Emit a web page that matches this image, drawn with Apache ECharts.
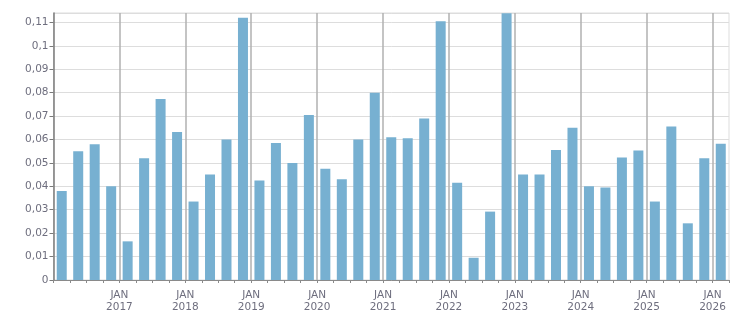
<!DOCTYPE html>
<html>
<head>
<meta charset="utf-8">
<script src="https://cdn.jsdelivr.net/npm/echarts@6/dist/echarts.min.js"></script>
<style>
  html, body { margin: 0; padding: 0; background: #fff; }
  #chart { width: 751px; height: 313px; }
</style>
</head>
<body>
<div id="chart"></div>
<script>
// quarterly values, 2016 Q1 .. 2026 Q1
var quarters = [
  "2016-Q1", "2016-Q2", "2016-Q3", "2016-Q4",
  "2017-Q1", "2017-Q2", "2017-Q3", "2017-Q4",
  "2018-Q1", "2018-Q2", "2018-Q3", "2018-Q4",
  "2019-Q1", "2019-Q2", "2019-Q3", "2019-Q4",
  "2020-Q1", "2020-Q2", "2020-Q3", "2020-Q4",
  "2021-Q1", "2021-Q2", "2021-Q3", "2021-Q4",
  "2022-Q1", "2022-Q2", "2022-Q3", "2022-Q4",
  "2023-Q1", "2023-Q2", "2023-Q3", "2023-Q4",
  "2024-Q1", "2024-Q2", "2024-Q3", "2024-Q4",
  "2025-Q1", "2025-Q2", "2025-Q3", "2025-Q4",
  "2026-Q1"
];
var values = [
  0.038, 0.055, 0.058, 0.040,
  0.0165, 0.052, 0.0773, 0.0632,
  0.0335, 0.045, 0.060, 0.112,
  0.0425, 0.0585, 0.050, 0.0705,
  0.0475, 0.043, 0.060, 0.080,
  0.061, 0.0605, 0.069, 0.1105,
  0.0415, 0.0095, 0.0292, 0.1139,
  0.045, 0.045, 0.0555, 0.065,
  0.040, 0.0395, 0.0523, 0.0553,
  0.0335, 0.0655, 0.0242, 0.052,
  0.0582
];
var yearTicks = [2017, 2018, 2019, 2020, 2021, 2022, 2023, 2024, 2025, 2026];

var startYear = 2016;
// x position in months since Jan 2016, bar at middle of its quarter
function quarterToMonth(q) {
  var y = parseInt(q.slice(0, 4), 10);
  var n = parseInt(q.slice(6), 10);
  return (y - startYear) * 12 + (n - 1) * 3 + 1.5;
}

var seriesData = quarters.map(function (q, i) {
  return [quarterToMonth(q), values[i]];
});

var chart = echarts.init(document.getElementById("chart"));
var labelFont = {
  color: "#6e6e7e",
  fontSize: 10.5,
  fontFamily: "DejaVu Sans",
};

chart.setOption({
  animation: false,
  grid: {
    left: 53.5,
    right: 22,
    top: 13,
    bottom: 32.5,
    show: true,
    borderColor: "#dddddd",
    borderWidth: 1,
  },
  xAxis: {
    type: "value",
    min: 0,
    max: 123,
    interval: 3,
    axisLine: { lineStyle: { color: "#8a8a8a", width: 1 } },
    axisTick: { show: true, length: 3, lineStyle: { color: "#8a8a8a" } },
    splitLine: { show: false },
    axisLabel: Object.assign({}, labelFont, {
      margin: 9,
      lineHeight: 12,
      formatter: function (v) {
        if (v <= 0 || v % 12 !== 0) return "";
        return "JAN\n" + (startYear + v / 12);
      },
    }),
  },
  yAxis: {
    type: "value",
    min: 0,
    max: 0.114,
    interval: 0.01,
    axisLine: { show: true, lineStyle: { color: "#7a7a7a", width: 1.5 } },
    axisTick: { show: true, length: 4, lineStyle: { color: "#7a7a7a" } },
    splitLine: { show: true, lineStyle: { color: "#dddddd", width: 1 } },
    axisLabel: Object.assign({}, labelFont, {
      margin: 5,
      showMaxLabel: false,
      formatter: function (v) {
        return String(Number(v.toFixed(2))).replace(".", ",");
      },
    }),
  },
  series: [
    {
      type: "bar",
      data: seriesData,
      barWidth: 10,
      itemStyle: { color: "#77b0d1" },
      markLine: {
        silent: true,
        symbol: "none",
        label: { show: false },
        lineStyle: { color: "#b0b0b0", type: "solid", width: 1.5 },
        data: yearTicks.map(function (y) {
          return { xAxis: (y - startYear) * 12 };
        }),
      },
    },
  ],
});
</script>
</body>
</html>
